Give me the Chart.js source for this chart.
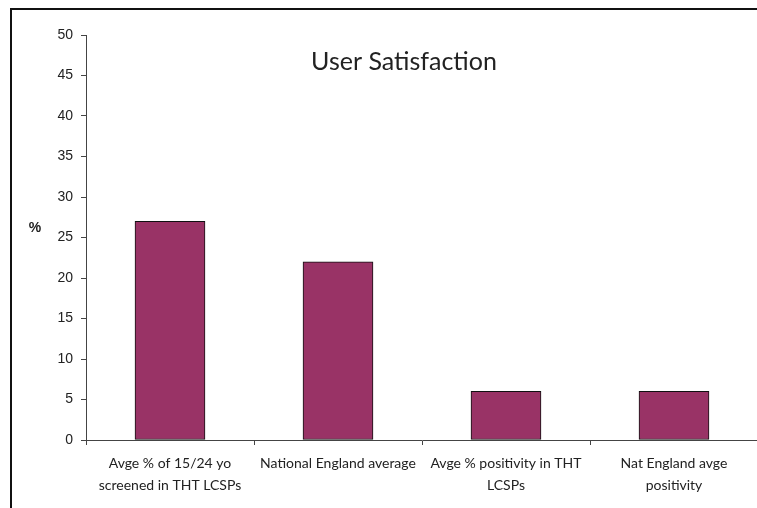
<!DOCTYPE html>
<html>
<head>
<meta charset="utf-8">
<script src="https://cdn.jsdelivr.net/npm/chart.js@4/dist/chart.umd.min.js"></script>
<style>
  html, body { margin: 0; padding: 0; background: #fff; overflow: hidden; }
  #wrap { position: relative; width: 757px; height: 508px; overflow: hidden; }
  #frame {
    position: absolute; left: 10px; top: 8px; width: 800px; height: 600px;
    border-left: 2px solid #111; border-top: 2px solid #111;
  }
  #chart { position: absolute; left: 0; top: 0; }
</style>
</head>
<body>
<div id="wrap">
  <div id="frame"></div>
  <canvas id="chart" width="800" height="508"></canvas>
</div>
<script>
;(() => {
  'use strict';

  const categories = [
    ['Avge % of 15/24 yo', 'screened in THT LCSPs'],
    'National England average',
    ['Avge % positivity in THT', 'LCSPs'],
    ['Nat England avge', 'positivity']
  ];
  const values = [27, 22, 6, 6];
  const yMin = 0;
  const yMax = 50;
  const yStep = 5;
  const chartTitle = 'User Satisfaction';
  const yTitle = '%';

  const overlay = {
    id: 'overlay',
    afterDraw(chart) {
      const ctx = chart.ctx;
      ctx.save();
      ctx.fillStyle = '#222';
      ctx.textAlign = 'center';
      ctx.textBaseline = 'middle';
      ctx.font = '400 25px Lato';
      ctx.fillText(chartTitle, 404, 62);
      ctx.font = 'bold 14px "Liberation Sans"';
      ctx.fillText(yTitle, 35, 228);
      ctx.restore();
    }
  };

  new Chart(document.getElementById('chart').getContext('2d'), {
    type: 'bar',
    data: {
      labels: categories,
      datasets: [{
        data: values,
        backgroundColor: '#993366',
        borderColor: '#111',
        borderWidth: 1,
        borderSkipped: false,
        barThickness: 70
      }]
    },
    options: {
      responsive: false,
      devicePixelRatio: 1,
      animation: false,
      layout: { padding: { top: 35, left: 0, right: 42, bottom: 0 } },
      plugins: {
        legend: { display: false },
        tooltip: { enabled: false }
      },
      scales: {
        x: {
          offset: true,
          grid: {
            offset: true,
            drawOnChartArea: false,
            drawTicks: true,
            tickLength: 5,
            color: '#444'
          },
          border: { color: '#444', width: 1 },
          ticks: {
            color: '#222',
            font: { family: 'Lato', size: 14, lineHeight: 1.6 },
            padding: 7,
            maxRotation: 0,
            autoSkip: false
          },
          afterFit(scale) { scale.height = 68; }
        },
        y: {
          min: yMin,
          max: yMax,
          grid: {
            drawOnChartArea: false,
            drawTicks: true,
            tickLength: 5,
            color: '#444'
          },
          border: { color: '#444', width: 1 },
          ticks: {
            stepSize: yStep,
            color: '#222',
            font: { family: 'Liberation Sans', size: 14 },
            padding: 8
          },
          afterFit(scale) { scale.width = 86; }
        }
      }
    },
    plugins: [overlay]
  });
})();
</script>
</body>
</html>
